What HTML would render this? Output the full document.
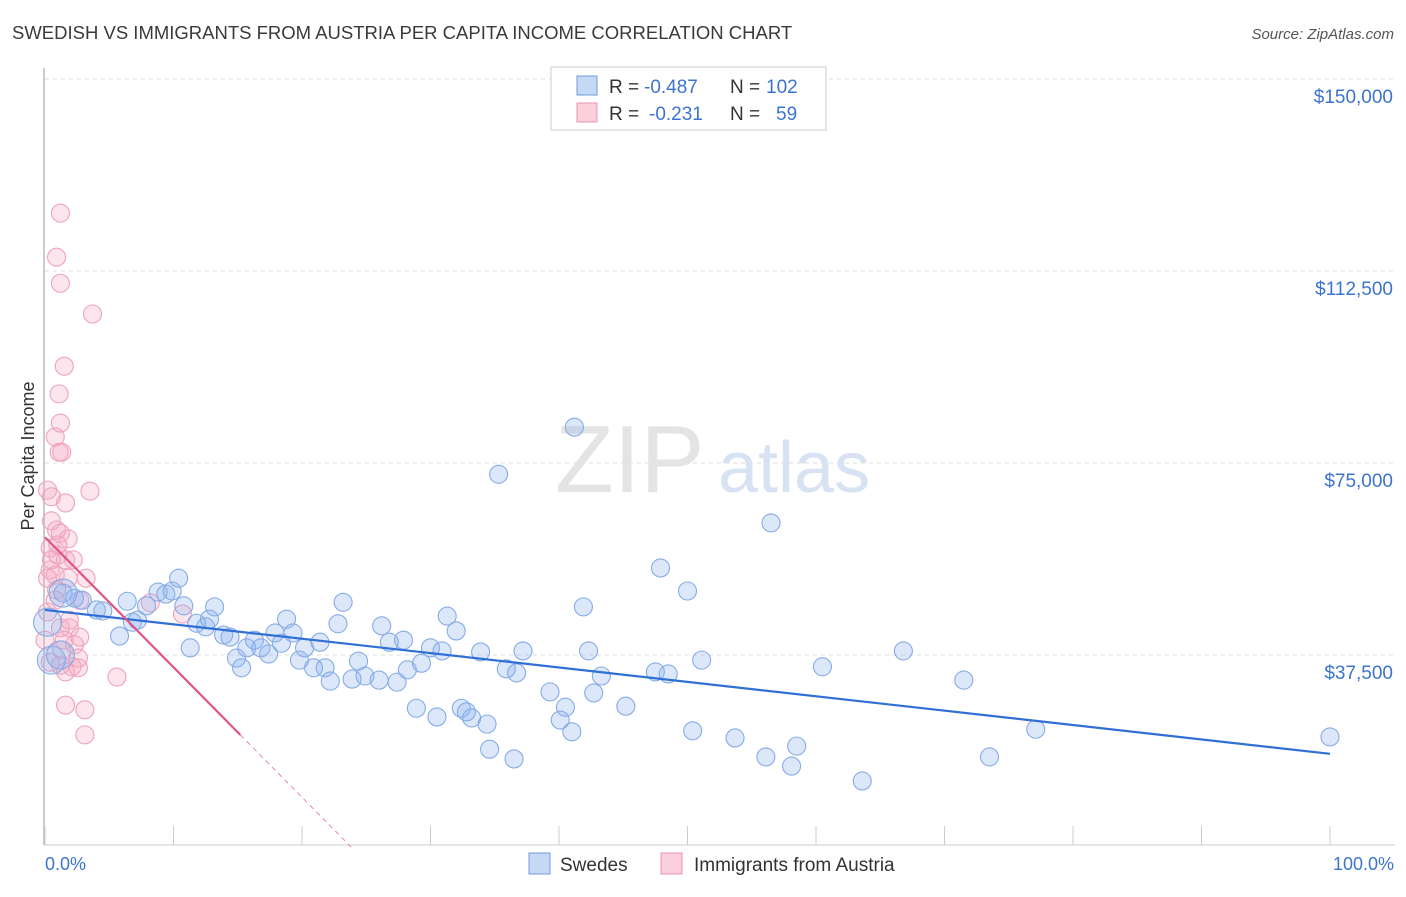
<!DOCTYPE html>
<html><head><meta charset="utf-8"><style>
body{margin:0;background:#fff;font-family:"Liberation Sans",sans-serif;}
svg text{font-family:"Liberation Sans",sans-serif;}
</style></head><body>
<svg width="1406" height="892" viewBox="0 0 1406 892" xmlns="http://www.w3.org/2000/svg">
<text x="12" y="39" font-size="18.5" fill="#3a3a3a">SWEDISH VS IMMIGRANTS FROM AUSTRIA PER CAPITA INCOME CORRELATION CHART</text>
<text x="1394" y="39" font-size="15" fill="#555" font-style="italic" text-anchor="end">Source: ZipAtlas.com</text>
<g id="grid"></g>
<text x="555" y="492" font-size="96" fill="#e4e4e4" font-family="Liberation Serif">ZIP</text>
<text x="718" y="492" font-size="72" fill="#d7e3f3">atlas</text>
<line x1="44" y1="68" x2="44" y2="845" stroke="#bbb" stroke-width="1.5"/>
<line x1="44" y1="845" x2="1395" y2="845" stroke="#ccc"/>
<g id="ticks"></g>
<g id="pts"></g>
<g id="trends"></g>
<text x="34" y="456" font-size="18" fill="#333" text-anchor="middle" transform="rotate(-90 34 456)">Per Capita Income</text>
<text x="45" y="870" font-size="18" fill="#3d74d0">0.0%</text>
<text x="1394" y="870" font-size="18" fill="#3d74d0" text-anchor="end">100.0%</text>
<g>
<rect x="551" y="67" width="275" height="63" fill="#fff" stroke="#ccc"/>
<rect x="577" y="76" width="20" height="19" fill="#c5d9f5" stroke="#6f9be0"/>
<rect x="577" y="103" width="20" height="19" fill="#fbd0dc" stroke="#ea94ae"/>
<text y="93" font-size="19" fill="#333"><tspan x="609">R =</tspan><tspan x="644" fill="#3d74d0">-0.487</tspan><tspan x="730">N =</tspan><tspan x="766" fill="#3d74d0">102</tspan></text>
<text y="120" font-size="19" fill="#333"><tspan x="609">R =</tspan><tspan x="649" fill="#3d74d0">-0.231</tspan><tspan x="730">N =</tspan><tspan x="776" fill="#3d74d0">59</tspan></text>
</g>
<g>
<rect x="529" y="853" width="21" height="21" fill="#c5d9f5" stroke="#6f9be0"/>
<text x="560" y="871" font-size="19" fill="#333">Swedes</text>
<rect x="661" y="853" width="21" height="21" fill="#fbd0dc" stroke="#ea94ae"/>
<text x="694" y="871" font-size="19" fill="#333">Immigrants from Austria</text>
</g>
</svg>
<script>
const yTicks=[37500,75000,112500,150000];
const yTickLabels=["$37,500","$75,000","$112,500","$150,000"];
const xTicks=[0,10,20,30,40,50,60,70,80,90,100];
const blueX=[1.4,2.3,2.9,4.0,4.5,5.8,6.4,6.8,7.2,7.9,8.8,9.4,9.9,10.4,10.8,11.3,11.8,12.5,12.8,13.2,13.9,14.4,14.9,15.3,15.7,16.3,16.8,17.4,17.9,18.4,18.8,19.3,19.8,20.2,20.9,21.4,21.8,22.2,22.8,23.2,23.9,24.4,24.9,26.0,26.2,26.8,27.4,27.9,28.2,28.9,29.3,30.0,30.5,30.9,31.3,32.0,32.4,32.8,33.2,33.9,34.4,34.6,35.3,35.9,36.5,36.7,37.2,39.3,40.1,40.5,41.0,41.2,41.9,42.3,42.7,43.3,45.2,47.5,47.9,48.5,50.0,50.4,51.1,53.7,56.1,56.5,58.1,58.5,60.5,63.6,66.8,71.5,73.5,77.1,100];
const blueY=[49.6,48.6,48.2,46.3,46.1,41.2,48.0,43.9,44.3,47.1,49.8,49.4,50.0,52.5,47.1,38.9,43.7,43.0,44.5,46.9,41.4,41.0,36.9,35.0,38.9,40.4,38.9,37.7,41.8,39.8,44.5,41.8,36.5,38.9,35.0,40.0,35.0,32.4,43.6,47.8,32.8,36.3,33.4,32.6,43.2,40.0,32.2,40.4,34.6,27.1,35.9,38.9,25.4,38.3,45.1,42.2,27.1,26.4,25.2,38.1,24.0,19.1,72.8,34.8,17.2,34.0,38.3,30.3,24.8,27.3,22.5,82.0,46.9,38.3,30.1,33.4,27.5,34.2,54.5,33.8,50.0,22.7,36.5,21.3,17.6,63.3,15.8,19.7,35.2,12.9,38.3,32.6,17.6,23.0,21.5];
const blueBigX=[1.4,0.2,0.5,1.2];
const blueBigY=[49.6,43.9,36.5,37.5];
const pinkX=[1.2,0.9,1.2,3.7,1.5,1.1,1.2,0.8,1.1,1.3,0.2,0.5,1.6,3.5,0.5,0.9,1.2,1.8,0.4,1.0,1.6,2.2,0.4,0.8,1.8,3.2,0.9,2.7,8.2,10.7,0.2,1.2,1.9,2.7,1.5,2.3,1.3,2.6,0.4,1.2,2.1,2.6,1.6,5.6,1.6,3.1,3.1,0,1.9,0.5,1.0,0.2,0.8];
const pinkY=[123.8,115.2,110.1,104.1,93.9,88.5,82.8,80.1,77.1,77.1,69.7,68.4,67.2,69.5,63.7,61.9,61.3,60.2,58.4,57.0,56.1,56.1,54.1,53.1,52.5,52.5,50.2,48.2,47.7,45.5,45.9,42.8,42.8,41.0,40.4,39.5,38.5,36.9,36.1,35.5,35.2,35.0,34.2,33.2,27.7,26.8,21.9,40.4,44.3,56.1,59.0,52.5,48.2];
const blueTrend=[46.3,18.2];
const pinkTrend=[60.5,21.9];
const pinkSolidEnd=15.2;

const NS="http://www.w3.org/2000/svg";
const X0=45,X1=1330,Y0=847,PX=192/37500;
const sx=p=>X0+(X1-X0)*p/100;
const sy=v=>Y0-v*PX;
function mk(t,a,parent){const e=document.createElementNS(NS,t);for(const k in a)e.setAttribute(k,a[k]);document.getElementById(parent).appendChild(e);return e;}
yTicks.forEach((v,i)=>{
 const l=mk('line',{x1:45,x2:1395,y1:sy(v),y2:sy(v),stroke:'#ddd','stroke-dasharray':'4,4'},'grid');
 
 
 const t=mk('text',{x:1393,y:sy(v)+24,'font-size':19,fill:'#3d74d0','text-anchor':'end'},'grid');
 t.textContent=yTickLabels[i];
 
 
});
xTicks.forEach(p=>{
 const l=mk('line',{x1:sx(p),x2:sx(p),y1:826,y2:845,stroke:'#ccc'},'ticks');
 
 
});
pinkX.forEach((p,i)=>{
 const c=mk('circle',{cx:sx(p),cy:sy(pinkY[i]*1000),r:9,fill:'rgba(246,170,195,0.3)',stroke:'#eea3bb','stroke-width':1.1},'pts');
 
 
});
blueBigX.forEach((p,i)=>{
 const c=mk('circle',{cx:sx(p),cy:sy(blueBigY[i]*1000),r:14,fill:'rgba(140,178,238,0.3)',stroke:'#86abe6','stroke-width':1.1},'pts');
 
 
});
blueX.forEach((p,i)=>{
 const c=mk('circle',{cx:sx(p),cy:sy(blueY[i]*1000),r:9,fill:'rgba(140,178,238,0.3)',stroke:'#86abe6','stroke-width':1.1},'pts');
 
 
});
const bl=mk('line',{x1:sx(0),y1:sy(blueTrend[0]*1000),x2:sx(100),y2:sy(blueTrend[1]*1000),stroke:'#2f6fd6','stroke-width':2.2},'trends');


const slope=(pinkTrend[1]-pinkTrend[0])/pinkSolidEnd;
const pl=mk('line',{x1:sx(0),y1:sy(pinkTrend[0]*1000),x2:sx(pinkSolidEnd),y2:sy(pinkTrend[1]*1000),stroke:'#e0557f','stroke-width':2.2},'trends');


const zeroP=-pinkTrend[0]/slope;
const pd=mk('line',{x1:sx(pinkSolidEnd),y1:sy(pinkTrend[1]*1000),x2:sx(zeroP),y2:sy(0),stroke:'#e88aa8','stroke-width':1,'stroke-dasharray':'5,4'},'trends');


</script>
</body></html>
